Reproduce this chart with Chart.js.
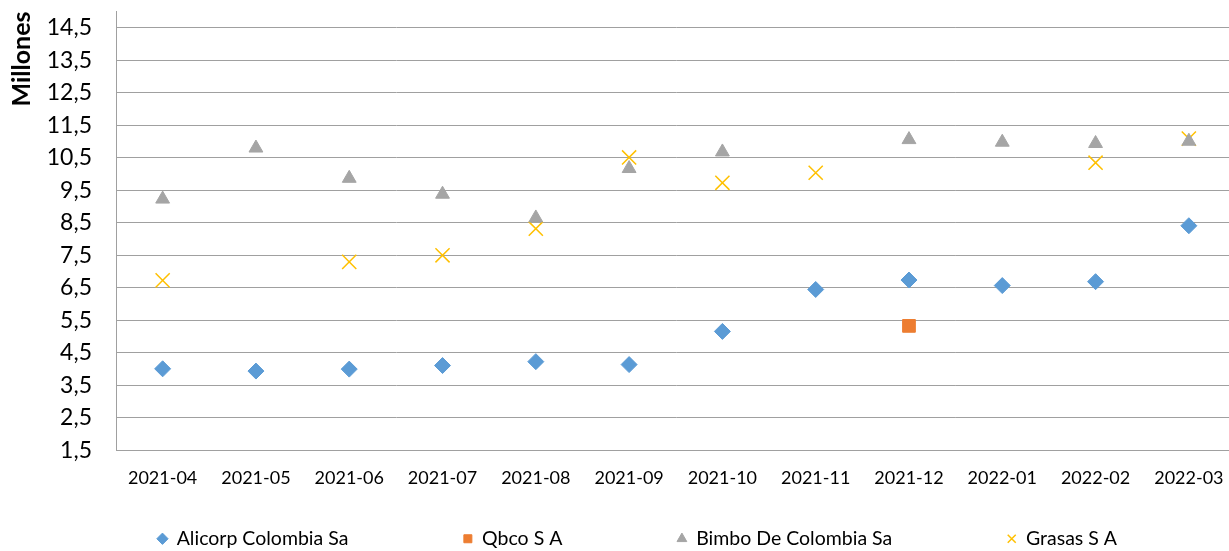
<!DOCTYPE html>
<html>
<head>
<meta charset="utf-8">
<script src="https://cdn.jsdelivr.net/npm/chart.js@4"></script>
<style>
  html, body { margin: 0; padding: 0; background: #fff; overflow: hidden; }
</style>
</head>
<body>
<canvas id="myChart" width="1247" height="551"></canvas>
<script>
const labels = [
    '2021-04', '2021-05', '2021-06', '2021-07', '2021-08', '2021-09',
    '2021-10', '2021-11', '2021-12', '2022-01', '2022-02', '2022-03',
];

// valores en millones
const alicorp = [4.01, 3.94, 4.00, 4.11, 4.23, 4.14, 5.16, 6.45, 6.74, 6.57, 6.69, 8.41];
const qbco    = [null, null, null, null, null, null, null, null, 5.33, null, null, null];
const bimbo   = [9.23, 10.80, 9.87, 9.38, 8.65, 10.17, 10.68, null, 11.06, 10.98, 10.94, 11.01];
const grasas  = [6.73, null, 7.30, 7.50, 8.32, 10.51, 9.73, 10.04, null, null, 10.35, 11.09];

const yTicks = [1.5, 2.5, 3.5, 4.5, 5.5, 6.5, 7.5, 8.5, 9.5, 10.5, 11.5, 12.5, 13.5, 14.5];

const font = 'Lato, "Open Sans", sans-serif';

// la leyenda de Excel tiene mucho espacio entre items pero poco alto
const legendSpacing = {
    id: 'legendSpacing',
    afterInit(chart) {
        const lg = chart.legend;
        const fit = lg.fit;
        const draw = lg.draw;
        lg.fit = function () { fit.call(this); this.height = 53; };
        lg.draw = function () {
            const pad = this.options.labels.padding;
            const t = this.top;
            this.top = this.bottom - 22 - pad;
            this.left += 16; this.right += 16;
            draw.call(this);
            this.top = t; this.left -= 16; this.right -= 16;
        };
    }
};

const data = {
    labels: labels,
    datasets: [{
        label: 'Alicorp Colombia Sa',
        data: alicorp,
        pointStyle: 'rectRot',
        pointRadius: 8,
        backgroundColor: '#5B9BD5',
        borderColor: '#5B9BD5',
    },
    {
        label: 'Qbco S A',
        data: qbco,
        pointStyle: 'rect',
        pointRadius: 9,
        backgroundColor: '#ED7D31',
        borderColor: '#ED7D31',
    },
    {
        label: 'Bimbo De Colombia Sa',
        data: bimbo,
        pointStyle: 'triangle',
        pointRadius: 8,
        backgroundColor: '#A5A5A5',
        borderColor: '#A5A5A5',
    },
    {
        label: 'Grasas S A',
        data: grasas,
        pointStyle: 'crossRot',
        pointRadius: 10,
        pointBorderWidth: 1.5,
        backgroundColor: '#FFC000',
        borderColor: '#FFC000',
    }]
};

const config = {
    type: 'line',
    data: data,
    plugins: [legendSpacing],
    options: {
        responsive: false,
        animation: false,
        showLine: false,
        layout: { padding: { top: 7.5, right: 4, bottom: 0, left: 0 } },
        plugins: {
            tooltip: { enabled: false },
            legend: {
                position: 'bottom',
                labels: {
                    usePointStyle: true,
                    boxWidth: 9,
                    boxHeight: 8,
                    padding: 115,
                    color: '#000',
                    font: { family: font, size: 19.5 },
                },
            },
        },
        scales: {
            x: {
                offset: true,
                afterFit: (axis) => { axis.paddingLeft = 0; axis.paddingRight = 0; },
                grid: { display: false },
                border: { color: '#a0a0a0' },
                ticks: { color: '#000', padding: 9, maxRotation: 0, autoSkip: false, font: { family: font, size: 18 } },
            },
            y: {
                min: 1.5,
                max: 15,
                afterBuildTicks: (axis) => { axis.ticks = yTicks.map(v => ({ value: v })); },
                afterFit: (axis) => { axis.width = 116; axis.paddingTop = 0; axis.paddingBottom = 0; },
                grid: { color: '#a0a0a0', drawTicks: false },
                border: { color: '#a0a0a0' },
                ticks: {
                    color: '#000',
                    padding: 24,
                    autoSkip: false,
                    font: { family: font, size: 23 },
                    callback: (v) => Number(v).toFixed(1).replace('.', ','),
                },
                title: {
                    display: true,
                    text: 'Millones',
                    align: 'end',
                    color: '#000',
                    padding: { top: 7, bottom: 0 },
                    font: { family: font, size: 25, weight: 'bold' },
                },
            },
        },
    },
};

const myChart = new Chart(document.getElementById('myChart'), config);
</script>
</body>
</html>
